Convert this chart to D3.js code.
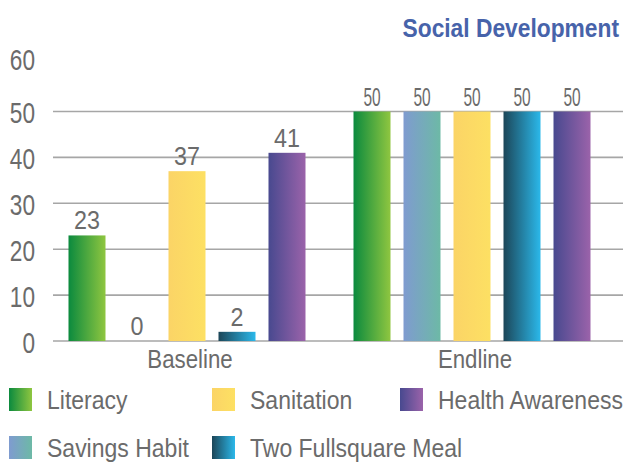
<!DOCTYPE html>
<html>
<head>
<meta charset="utf-8">
<script src="https://cdn.jsdelivr.net/npm/d3@7"></script>
<style>
  html, body { margin: 0; padding: 0; background: #fff; }
  svg { display: block; }
  text { font-family: "Liberation Sans", Arial, sans-serif; }
</style>
</head>
<body>
<svg id="chart" width="627" height="462"></svg>
<script>
// Survey rounds and indicators
const groups = ["Baseline", "Endline"];
const series = ["Literacy", "Savings Habit", "Sanitation", "Two Fullsquare Meal", "Health Awareness"];
const baselineValues = [23, 0, 37, 2, 41];
const endlineValues = [50, 50, 50, 50, 50];
const yTicks = [0, 10, 20, 30, 40, 50, 60];
const gridTicks = [0, 10, 20, 30, 40, 50];
const title = "Social Development";

// Gradient stops (left -> right) per indicator
const gradients = {
  "Literacy": ["#0b8a3e", "#8fc640"],
  "Savings Habit": ["#7f9bd0", "#6db9a6"],
  "Sanitation": ["#fbd466", "#fde063"],
  "Two Fullsquare Meal": ["#1c4658", "#2bb8ea"],
  "Health Awareness": ["#48498f", "#9b63aa"]
};

const data = groups.map((g, gi) => ({
  group: g,
  values: series.map((s, si) => ({ series: s, value: (gi === 0 ? baselineValues : endlineValues)[si] }))
}));

const svg = d3.select("#chart");
const textColor = "#6b6b6b";

// Condensed lettering: place text at (x, y) and squeeze it horizontally by k
function placeCondensed(sel, xf, yf, k) {
  sel.attr("x", 0).attr("y", 0)
    .attr("transform", (d, i) => `translate(${xf(d, i)},${yf(d, i)}) scale(${k},1)`);
}

const defs = svg.append("defs");
series.forEach((s, i) => {
  const lg = defs.append("linearGradient")
    .attr("id", "grad" + i)
    .attr("x1", "0%").attr("x2", "100%").attr("y1", "0%").attr("y2", "0%");
  lg.append("stop").attr("offset", "0%").attr("stop-color", gradients[s][0]);
  lg.append("stop").attr("offset", "100%").attr("stop-color", gradients[s][1]);
});

const gridLeft = 53, gridRight = 623;
const y = d3.scaleLinear().domain([0, 50]).range([341, 111.5]);

const x0 = d3.scaleBand().domain(groups).range([44.5, 614.5]).padding(0);
const x1 = d3.scaleBand().domain(series).range([0, 250]).paddingInner(0.26).paddingOuter(0.13);

// Horizontal gridlines
svg.append("g")
  .selectAll("line")
  .data(gridTicks)
  .join("line")
  .attr("x1", gridLeft).attr("x2", gridRight)
  .attr("y1", d => y(d)).attr("y2", d => y(d))
  .attr("stroke", "#a6a6a6")
  .attr("stroke-width", 1.6);

// Y axis labels
const yAxis = svg.append("g")
  .attr("transform", "translate(35,0)")
  .call(d3.axisLeft(y).tickValues(yTicks).tickSize(0).tickPadding(0));
yAxis.select(".domain").remove();
yAxis.selectAll("text")
  .attr("fill", textColor)
  .style("font-size", "29px")
  .attr("x", 0)
  .attr("dy", null)
  .attr("transform", d => `translate(0,${d === 60 ? 4 : 11}) scale(0.78,1)`);

// Bars
const groupG = svg.append("g")
  .selectAll("g")
  .data(data)
  .join("g")
  .attr("transform", d => `translate(${x0(d.group) + x0.bandwidth() / 2 - 125},0)`);

groupG.selectAll("rect")
  .data(d => d.values)
  .join("rect")
  .attr("x", d => x1(d.series))
  .attr("width", x1.bandwidth())
  .attr("y", d => y(d.value))
  .attr("height", d => y(0) - y(d.value))
  .attr("fill", d => `url(#grad${series.indexOf(d.series)})`);

// Value labels
groupG.each(function (gd, gi) {
  const t = d3.select(this).selectAll("text.val")
    .data(gd.values)
    .join("text")
    .attr("class", "val")
    .attr("text-anchor", "middle")
    .attr("fill", textColor)
    .style("font-size", gi === 0 ? "26.5px" : "25px")
    .text(d => d.value);
  placeCondensed(t, d => x1(d.series) + x1.bandwidth() / 2, d => y(d.value) - 6, gi === 0 ? 0.88 : 0.62);
});

// Category labels
const cat = svg.append("g")
  .selectAll("text")
  .data(groups)
  .join("text")
  .attr("text-anchor", "middle")
  .attr("fill", textColor)
  .style("font-size", "26.5px")
  .text(d => d);
placeCondensed(cat, d => x0(d) + x0.bandwidth() / 2 + 3, () => 368, 0.84);

// Title
const titleText = svg.append("text")
  .datum(title)
  .attr("text-anchor", "end")
  .attr("fill", "#4763aa")
  .style("font-size", "26.5px")
  .style("font-weight", "bold")
  .text(d => d);
placeCondensed(titleText, () => 619, () => 36.5, 0.86);

// Legend
const legendPos = [
  { x: 9, y: 388 }, { x: 9, y: 436 },
  { x: 212, y: 388 }, { x: 212, y: 436 },
  { x: 400, y: 388 }
];
const legend = svg.append("g")
  .selectAll("g")
  .data(series)
  .join("g")
  .attr("transform", (d, i) => `translate(${legendPos[i].x},${legendPos[i].y})`);
legend.append("rect")
  .attr("width", 23).attr("height", 23)
  .attr("fill", (d, i) => `url(#grad${i})`);
const legendText = legend.append("text")
  .attr("fill", textColor)
  .style("font-size", "25px")
  .text(d => d);
placeCondensed(legendText, () => 38, () => 20.5, 0.92);
</script>
</body>
</html>
